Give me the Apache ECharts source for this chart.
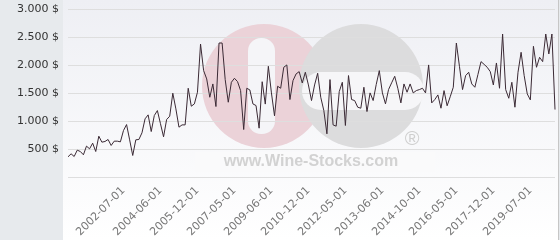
<!DOCTYPE html>
<html>
<head>
<meta charset="utf-8">
<script src="https://cdn.jsdelivr.net/npm/echarts@6/dist/echarts.min.js"></script>
<style>
  html, body { margin: 0; padding: 0; background: #ffffff; }
  #chart { width: 560px; height: 240px; }
</style>
</head>
<body>
<div id="chart"></div>
<script>
// Price series (USD)
var prices = [
  357, 411, 363, 476, 452, 393, 548, 500, 601, 452,
  726, 619, 631, 667, 560, 637, 637, 625, 827, 934,
  660, 381, 661, 667, 786, 1036, 1107, 809, 1095, 1184,
  950, 715, 1024, 1083, 1494, 1214, 887, 928, 928, 1583,
  1262, 1303, 1512, 2374, 1898, 1750, 1422, 1660, 1256, 2392,
  2392, 1738, 1333, 1690, 1761, 1702, 1541, 845, 1583, 1553,
  1303, 1274, 869, 1700, 1300, 1976, 1500, 1090, 1619, 1583,
  1958, 2000, 1381, 1720, 1839, 1880, 1678, 1869, 1642, 1363,
  1642, 1851, 1422, 1184, 768, 1738, 928, 905, 1523, 1690,
  917, 1810, 1381, 1363, 1244, 1226, 1601, 1166, 1500, 1363,
  1650, 1898, 1500, 1304, 1560, 1680, 1797, 1583, 1321, 1660,
  1512, 1660, 1500, 1541, 1559, 1583, 1500, 2000, 1321, 1381,
  1464, 1226, 1541, 1270, 1430, 1601, 2392, 1975, 1559, 1809,
  1869, 1660, 1601, 1830, 2059, 2010, 1958, 1880, 1642, 2035,
  1583, 2553, 1559, 1404, 1690, 1244, 1869, 2226, 1809, 1482,
  1375, 2333, 1958, 2136, 2059, 2553, 2196, 2553, 1202
];

// Date tick labels shown on the x axis and the sample they sit on
var tickLabels = ['2002-07-01', '2004-06-01', '2005-12-01', '2007-05-01', '2009-06-01', '2010-12-01',
                  '2012-05-01', '2013-06-01', '2014-10-01', '2016-05-01', '2017-12-01', '2019-07-01'];
var tickIndex = [18, 30, 42, 54, 66, 78, 90, 102, 114, 126, 138, 150];

// Y axis tick labels (0, 500, ... 3000)
var yTickLabels = ['', '500 $', '1.000 $', '1.500 $', '2.000 $', '2.500 $', '3.000 $'];

var categories = prices.map(function (_, i) {
  var k = tickIndex.indexOf(i);
  return k >= 0 ? tickLabels[k] : '';
});

var chart = echarts.init(document.getElementById('chart'), null, { renderer: 'canvas' });

var FONT = 'DejaVu Sans';

chart.setOption({
  animation: false,
  grid: { left: 68, right: 5, top: 9, bottom: 62 },
  graphic: [
    { type: 'rect', z: -20, shape: { x: 0, y: 0, width: 63, height: 240 }, style: { fill: '#e7eaed' } },
    { type: 'rect', z: -20, shape: { x: 63, y: 0, width: 496, height: 240 },
      style: { fill: new echarts.graphic.LinearGradient(0, 0, 0, 1, [
        { offset: 0, color: '#eeeff4' }, { offset: 1, color: '#ffffff' }]) } },
    { type: 'rect', z: -20, shape: { x: 558, y: 0, width: 1, height: 240 }, style: { fill: '#c6c6c6' } },
    { type: 'rect', z: -20, shape: { x: 559, y: 0, width: 1, height: 240 }, style: { fill: '#e7eaed' } },
    // watermark
    { type: 'rect', z: -12, shape: { x: 195, y: 152, width: 240, height: 20 }, style: { fill: '#fafafb' } },
    { type: 'circle', z: -11, shape: { cx: 264, cy: 86, r: 62 }, style: { fill: '#ebd2d8' } },
    { type: 'rect', z: -10, shape: { x: 248, y: 38, width: 27, height: 96, r: 13 }, style: { fill: '#f5f5f8' } },
    { type: 'circle', z: -9, shape: { cx: 361, cy: 86, r: 62 }, style: { fill: '#dcdcdd' } },
    { type: 'rect', z: -8, shape: { x: 302, y: 72, width: 122, height: 38, r: 19 }, style: { fill: '#f6f6f8' } },
    { type: 'text', z: -8, x: 311, y: 162,
      style: { text: 'www.Wine-Stocks.com', fill: '#d2d2d2', font: 'bold 16px "Liberation Sans"',
               align: 'center', verticalAlign: 'middle' } },
    { type: 'text', z: -8, x: 412, y: 139,
      style: { text: '\u00AE', fill: '#cfcfcf', font: '20px "Liberation Sans"',
               align: 'center', verticalAlign: 'middle' } }
  ],
  xAxis: {
    type: 'category',
    data: categories,
    boundaryGap: false,
    axisLine: { show: false },
    axisTick: { show: false },
    splitLine: { show: false },
    axisLabel: {
      rotate: 45,
      margin: 12,
      fontSize: 11,
      fontFamily: FONT,
      color: '#777777',
      interval: function (idx) { return tickIndex.indexOf(idx) >= 0; }
    }
  },
  yAxis: {
    type: 'value',
    min: 0,
    max: 3000,
    interval: 500,
    axisLine: { show: false },
    axisTick: { show: false },
    splitLine: { lineStyle: { color: '#dedede', width: 1 } },
    axisLabel: {
      margin: 9,
      fontSize: 11,
      fontFamily: FONT,
      color: '#333333',
      formatter: function (v) { return yTickLabels[Math.round(v / 500)]; }
    }
  },
  series: [{
    type: 'line',
    data: prices,
    showSymbol: false,
    lineStyle: { color: '#3b2a35', width: 1 },
    itemStyle: { color: '#3b2a35' }
  }]
});
</script>
</body>
</html>
